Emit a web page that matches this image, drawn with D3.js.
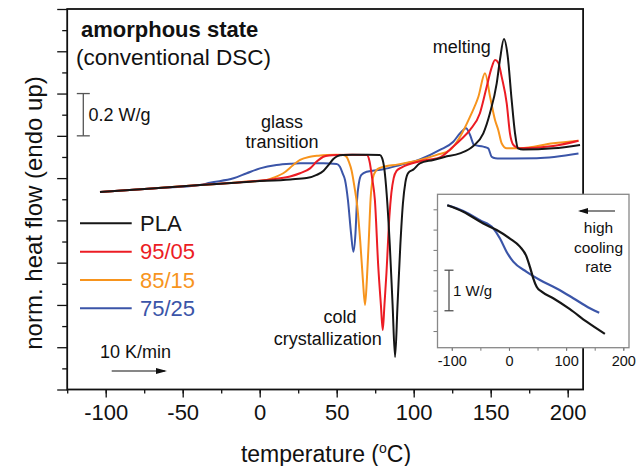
<!DOCTYPE html>
<html>
<head>
<meta charset="utf-8">
<script src="https://cdn.jsdelivr.net/npm/d3@7"></script>
<style>
  html, body { margin: 0; padding: 0; background: #fff; }
  svg { display: block; font-family: "Liberation Sans", Arial, Helvetica, sans-serif; }
</style>
</head>
<body>
<svg id="chart" width="638" height="466"></svg>
<script>
// DSC heating scans at 10 K/min, normalised heat flow (W/g, endo up)
const seriesNames = ["PLA", "95/05", "85/15", "75/25"];

const plaTemp = [-103.7, -70, -38.8, -6.3, 20, 30.5, 37, 41.5, 44.5, 47.8, 50.5, 54, 60, 70, 78, 79.5, 81, 82.5, 84.5, 86.3, 87.9, 89.5, 91.3, 93, 94.6, 96.5, 99.7, 104, 112.7, 120, 130, 138.7, 145.2, 149.5, 153.9, 156, 158.6, 161, 163.6, 165.8, 167.7, 171, 190.6, 208];
const plaFlow = [0.934, 0.951, 0.967, 0.983, 0.994, 1.0, 1.015, 1.035, 1.06, 1.09, 1.104, 1.109, 1.11, 1.11, 1.109, 1.095, 1.04, 0.92, 0.68, 0.40, 0.154, 0.40, 0.68, 0.88, 0.98, 1.025, 1.04, 1.07, 1.086, 1.1, 1.117, 1.152, 1.212, 1.307, 1.448, 1.559, 1.658, 1.58, 1.37, 1.212, 1.141, 1.135, 1.141, 1.157];

const b9505Temp = [-103.7, -70, -38.8, -6.3, 10, 19.7, 26.2, 32.7, 37, 41.3, 45, 50, 60, 69.5, 71.3, 73, 74.8, 77, 78.7, 79.9, 81, 82.3, 84.2, 85.5, 87, 89, 92, 104, 117, 125.7, 131, 136.6, 143, 147.4, 150.5, 152.8, 155, 157.1, 160.4, 162.5, 164.7, 167, 169, 190.6, 207];
const b9505Flow = [0.934, 0.951, 0.967, 0.984, 0.996, 1.008, 1.023, 1.046, 1.078, 1.101, 1.107, 1.109, 1.11, 1.109, 1.08, 1.0, 0.896, 0.58, 0.40, 0.281, 0.40, 0.55, 0.817, 0.93, 1.0, 1.035, 1.05, 1.08, 1.098, 1.149, 1.185, 1.228, 1.307, 1.432, 1.52, 1.559, 1.545, 1.48, 1.354, 1.212, 1.157, 1.145, 1.141, 1.152, 1.177];

const b8515Temp = [-103.7, -70, -38.8, -12.8, 4.5, 10, 15.3, 21.8, 26.2, 32.7, 38, 43.5, 50, 54.3, 56.5, 58, 59.7, 61.5, 63.3, 65.3, 67, 68.4, 69.6, 70.8, 72, 73.5, 75.5, 78, 90, 104, 115, 123.6, 130.1, 136.6, 142, 146.3, 149.6, 152.8, 154.9, 157.1, 160.4, 169, 190.6, 207];
const b8515Flow = [0.934, 0.951, 0.967, 0.981, 0.991, 1.005, 1.023, 1.062, 1.086, 1.101, 1.106, 1.109, 1.11, 1.109, 1.1, 1.075, 1.035, 0.96, 0.87, 0.7, 0.52, 0.4, 0.52, 0.7, 0.9, 1.0, 1.035, 1.048, 1.065, 1.086, 1.11, 1.133, 1.196, 1.291, 1.385, 1.496, 1.385, 1.275, 1.228, 1.165, 1.141, 1.141, 1.165, 1.177];

const b7525Temp = [-103.7, -70, -38.8, -32.3, -17, -8.4, 0.2, 10.9, 20, 26.2, 41.3, 50, 52.1, 54, 55.4, 57.3, 59.3, 60.8, 62.2, 63.2, 64.5, 66, 69.5, 80.3, 91.1, 104, 117, 125.7, 130.1, 134, 136.6, 139.2, 145.2, 148.4, 150.6, 153, 156, 179.9, 207];
const b7525Flow = [0.934, 0.951, 0.967, 0.978, 0.999, 1.023, 1.046, 1.062, 1.068, 1.07, 1.07, 1.067, 1.054, 1.02, 0.991, 0.896, 0.74, 0.652, 0.74, 0.896, 0.98, 1.015, 1.03, 1.042, 1.062, 1.088, 1.133, 1.172, 1.212, 1.236, 1.204, 1.157, 1.149, 1.141, 1.101, 1.094, 1.093, 1.094, 1.116];

// inset: scans after fast cooling (W/g)
const insetPlaTemp = [-107.9, -79.9, -44.9, -21.5, 1.7, 19.2, 30.9, 36.7, 42.5, 48.4, 57.2, 77.4, 106.6, 135.8, 167.8];
const insetPlaFlow = [3.60, 3.44, 3.15, 2.99, 2.78, 2.58, 2.33, 2.08, 1.80, 1.59, 1.47, 1.31, 1.04, 0.73, 0.43];
const inset7525Temp = [-107.9, -79.9, -50.7, -27.4, -15.7, -4.0, 7.5, 30.9, 54.2, 83.4, 112.4, 141.6, 157.9];
const inset7525Flow = [3.60, 3.46, 3.23, 3.03, 2.78, 2.45, 2.21, 1.96, 1.76, 1.55, 1.31, 1.06, 0.95];

const xTickValues = [-100, -50, 0, 50, 100, 150, 200];
const insetTickValues = [-100, 0, 100, 200];

// ---- drawing ----
const colors = { "PLA": "#161616", "95/05": "#ec1c24", "85/15": "#f7941d", "75/25": "#3b55a8" };
const FONT = '"Liberation Sans", Arial, Helvetica, sans-serif';

const series = [
  { name: "75/25", temp: b7525Temp, flow: b7525Flow },
  { name: "85/15", temp: b8515Temp, flow: b8515Flow },
  { name: "95/05", temp: b9505Temp, flow: b9505Flow },
  { name: "PLA",   temp: plaTemp,   flow: plaFlow }
];

const svg = d3.select("#chart");

const x = d3.scaleLinear().domain([-125, 210]).range([67.2, 583.1]);
const y = d3.scaleLinear().domain([0, 1.8]).range([389.5, 9]);

const defs = svg.append("defs");
defs.append("clipPath").attr("id", "plotClip")
  .append("rect")
  .attr("x", x.range()[0]).attr("y", y.range()[1])
  .attr("width", x.range()[1] - x.range()[0])
  .attr("height", y.range()[0] - y.range()[1]);

const line = d3.line()
  .x(d => x(d[0]))
  .y(d => y(d[1]))
  .curve(d3.curveMonotoneX);

const curves = svg.append("g").attr("clip-path", "url(#plotClip)");
series.forEach(s => {
  curves.append("path")
    .datum(s.temp.map((t, i) => [t, s.flow[i]]))
    .attr("fill", "none")
    .attr("stroke", colors[s.name])
    .attr("stroke-width", 2)
    .attr("stroke-linejoin", "round")
    .attr("d", line);
});

// axes
function styleAxis(g, size) {
  g.select(".domain").remove();
  g.selectAll(".tick line").attr("stroke", "#111").attr("stroke-width", 1.3);
  g.selectAll(".tick text").attr("fill", "#111").style("font-family", FONT).style("font-size", size);
}

const xMinor = svg.append("g").attr("transform", `translate(0,${y.range()[0]})`)
  .call(d3.axisBottom(x).tickValues(d3.range(-125, 201, 25)).tickSize(4).tickFormat(""));
styleAxis(xMinor, "22px");
const xMajor = svg.append("g").attr("transform", `translate(0,${y.range()[0]})`)
  .call(d3.axisBottom(x).tickValues(xTickValues).tickSize(8).tickPadding(7).tickFormat(d => String(d)));
styleAxis(xMajor, "22px");

const yMinor = svg.append("g").attr("transform", `translate(${x.range()[0]},0)`)
  .call(d3.axisLeft(y).tickValues(d3.range(1, 18, 2).map(k => k / 10)).tickSize(5).tickFormat(""));
styleAxis(yMinor, "22px");
const yMajor = svg.append("g").attr("transform", `translate(${x.range()[0]},0)`)
  .call(d3.axisLeft(y).tickValues(d3.range(0, 19, 2).map(k => k / 10)).tickSize(10).tickFormat(""));
styleAxis(yMajor, "22px");

svg.append("rect")
  .attr("x", x.range()[0]).attr("y", y.range()[1])
  .attr("width", x.range()[1] - x.range()[0])
  .attr("height", y.range()[0] - y.range()[1])
  .attr("fill", "none").attr("stroke", "#111").attr("stroke-width", 1.8);

// axis titles
svg.append("text")
  .attr("transform", "translate(42,213) rotate(-90)")
  .attr("text-anchor", "middle")
  .style("font-size", "24px").attr("fill", "#111")
  .text("norm. heat flow (endo up)");

const xt = svg.append("text")
  .attr("x", 326).attr("y", 462)
  .attr("text-anchor", "middle")
  .style("font-size", "23px").attr("fill", "#111");
xt.append("tspan").text("temperature (");
xt.append("tspan").attr("dy", -9).style("font-size", "14px").text("o");
xt.append("tspan").attr("dy", 9).text("C)");

// headings
svg.append("text").attr("x", 81).attr("y", 36.5)
  .style("font-size", "22px").style("font-weight", "bold").attr("fill", "#111")
  .text("amorphous state");
svg.append("text").attr("x", 76).attr("y", 65)
  .style("font-size", "22.5px").attr("fill", "#111")
  .text("(conventional DSC)");

// 0.2 W/g scale bar
const barX = 83.3;
const bar = svg.append("g").attr("stroke", "#555").attr("stroke-width", 1.3);
bar.append("line").attr("x1", barX).attr("x2", barX).attr("y1", y(1.2)).attr("y2", y(1.4));
bar.append("line").attr("x1", barX - 6.5).attr("x2", barX + 6.5).attr("y1", y(1.2)).attr("y2", y(1.2));
bar.append("line").attr("x1", barX - 6.5).attr("x2", barX + 6.5).attr("y1", y(1.4)).attr("y2", y(1.4));
svg.append("text").attr("x", 88.5).attr("y", (y(1.2) + y(1.4)) / 2 + 6.5)
  .style("font-size", "18px").attr("fill", "#111").text("0.2 W/g");

// annotations
const ann = [
  { t: "glass", x: 282, y: 127.7, a: "middle" },
  { t: "transition", x: 282, y: 148.3, a: "middle" },
  { t: "melting", x: 432.7, y: 53.3, a: "start" },
  { t: "cold", x: 340, y: 322.7, a: "middle" },
  { t: "crystallization", x: 327.7, y: 345, a: "middle" },
  { t: "10 K/min", x: 100, y: 358.3, a: "start" }
];
ann.forEach(d => {
  svg.append("text").attr("x", d.x).attr("y", d.y).attr("text-anchor", d.a)
    .style("font-size", "18px").attr("fill", "#111").text(d.t);
});

function arrow(g, x1, x2, yy, head) {
  g.append("line").attr("x1", x1).attr("x2", x2).attr("y1", yy).attr("y2", yy)
    .attr("stroke", "#111").attr("stroke-width", 1.2);
  const dir = Math.sign(x2 - x1);
  g.append("path")
    .attr("d", `M${x2 + dir * 2},${yy} L${x2 - dir * head},${yy - 3} L${x2 - dir * head},${yy + 3} Z`)
    .attr("fill", "#111");
}
arrow(svg, 111.7, 165, 371, 9);

// legend
const legendOrder = ["PLA", "95/05", "85/15", "75/25"];
legendOrder.forEach((name, i) => {
  const ly = 223.3 + i * 28.35;
  svg.append("line").attr("x1", 80).attr("x2", 131.7).attr("y1", ly).attr("y2", ly)
    .attr("stroke", colors[name]).attr("stroke-width", 2);
  svg.append("text").attr("x", 140).attr("y", ly + 7.8)
    .style("font-size", "22px").attr("fill", colors[name]).text(name);
});

// ---- inset ----
const ix = d3.scaleLinear().domain([-125, 210]).range([437.5, 629]);
const iy = d3.scaleLinear().domain([0.09, 3.87]).range([347.7, 194.3]);
const inset = svg.append("g");
inset.append("rect")
  .attr("x", ix.range()[0]).attr("y", iy.range()[1])
  .attr("width", ix.range()[1] - ix.range()[0])
  .attr("height", iy.range()[0] - iy.range()[1])
  .attr("fill", "#fff");

function styleInsetAxis(g) {
  g.select(".domain").remove();
  g.selectAll(".tick line").attr("stroke", "#777").attr("stroke-width", 1);
  g.selectAll(".tick text").attr("fill", "#111").style("font-family", FONT).style("font-size", "14.5px");
}
const ixMinor = inset.append("g").attr("transform", `translate(0,${iy.range()[0]})`)
  .call(d3.axisBottom(ix).tickValues(d3.range(-100, 201, 50)).tickSize(3).tickFormat(""));
styleInsetAxis(ixMinor);
const ixMajor = inset.append("g").attr("transform", `translate(0,${iy.range()[0]})`)
  .call(d3.axisBottom(ix).tickValues(insetTickValues).tickSize(3).tickPadding(5).tickFormat(d => String(d)));
styleInsetAxis(ixMajor);
const iyAxis = inset.append("g").attr("transform", `translate(${ix.range()[0]},0)`)
  .call(d3.axisLeft(iy).tickValues(d3.range(1, 8).map(k => k / 2)).tickSize(4).tickFormat(""));
styleInsetAxis(iyAxis);

const iline = d3.line().x(d => ix(d[0])).y(d => iy(d[1])).curve(d3.curveMonotoneX);
[
  { name: "75/25", temp: inset7525Temp, flow: inset7525Flow },
  { name: "PLA", temp: insetPlaTemp, flow: insetPlaFlow }
].forEach(s => {
  inset.append("path")
    .datum(s.temp.map((t, i) => [t, s.flow[i]]))
    .attr("fill", "none").attr("stroke", colors[s.name])
    .attr("stroke-width", 2.2).attr("stroke-linejoin", "round")
    .attr("d", iline);
});

inset.append("rect")
  .attr("x", ix.range()[0]).attr("y", iy.range()[1])
  .attr("width", ix.range()[1] - ix.range()[0])
  .attr("height", iy.range()[0] - iy.range()[1])
  .attr("fill", "none").attr("stroke", "#888").attr("stroke-width", 1.3);

// 1 W/g scale bar
const ibX = 449;
const ibar = inset.append("g").attr("stroke", "#444").attr("stroke-width", 1.2);
ibar.append("line").attr("x1", ibX).attr("x2", ibX).attr("y1", iy(1)).attr("y2", iy(2));
ibar.append("line").attr("x1", ibX - 4.5).attr("x2", ibX + 4.5).attr("y1", iy(1)).attr("y2", iy(1));
ibar.append("line").attr("x1", ibX - 4.5).attr("x2", ibX + 4.5).attr("y1", iy(2)).attr("y2", iy(2));
inset.append("text").attr("x", 453).attr("y", (iy(1) + iy(2)) / 2 + 6)
  .style("font-size", "15px").attr("fill", "#111").text("1 W/g");

arrow(inset, 615, 580, 211, 8);
["high", "cooling", "rate"].forEach((t, i) => {
  inset.append("text").attr("x", 598.5).attr("y", 233.3 + i * 19.5)
    .attr("text-anchor", "middle").style("font-size", "15.5px").attr("fill", "#111").text(t);
});
</script>
</body>
</html>
